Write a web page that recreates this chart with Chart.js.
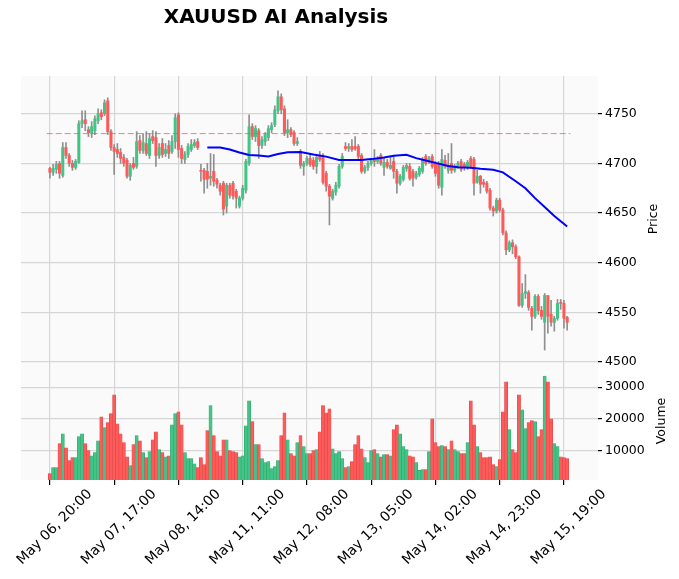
<!DOCTYPE html>
<html lang="en">
  <head>
    <meta charset="UTF-8" />
    <title>XAUUSD AI Analysis</title>
    <script src="https://cdn.jsdelivr.net/npm/chart.js"></script>
    <style>
      html,
      body {
        margin: 0;
        padding: 0;
        background: #ffffff;
      }
      #wrap {
        position: relative;
        width: 679px;
        height: 579px;
      }
      #title {
        position: absolute;
        left: 0;
        top: 5px;
        width: 552px;
        text-align: center;
        font: bold 20px "DejaVu Sans", sans-serif;
        line-height: 23px;
        color: #000000;
      }
      canvas {
        position: absolute;
        left: 0;
        top: 0;
      }
    </style>
  </head>
  <body>
    <div id="wrap">
      <canvas id="chart" width="679" height="579"></canvas>
      <div id="title">XAUUSD AI Analysis</div>
    </div>

    <script>
      // hourly candles, index 0 = May 06 20:00
      const opens = [
        4695, 4691, 4694, 4700, 4688, 4716, 4708, 4700, 4696, 4701,
        4740, 4744, 4734, 4730, 4733, 4743, 4751, 4750, 4763, 4732,
        4716, 4714, 4711, 4706, 4703, 4687, 4700, 4697, 4723, 4713,
        4720, 4708, 4727, 4726, 4708, 4720, 4710, 4718, 4712, 4722,
        4749, 4715, 4704, 4709, 4714, 4718, 4722, 4693, 4693, 4692,
        4685, 4692, 4683, 4678, 4680, 4657, 4678, 4680, 4672, 4657,
        4665, 4673, 4700, 4737, 4727, 4733, 4718, 4722, 4726, 4734,
        4739, 4753, 4767, 4755, 4731, 4734, 4731, 4720, 4712, 4697,
        4700, 4705, 4703, 4697, 4707, 4707, 4690, 4677, 4665, 4671,
        4677, 4697, 4717, 4715, 4717, 4717, 4717, 4708, 4692, 4696,
        4700, 4705, 4702, 4708, 4696, 4701, 4695, 4702, 4692, 4680,
        4684, 4695, 4697, 4692, 4686, 4689, 4692, 4707, 4702, 4707,
        4700, 4700, 4676, 4703, 4693, 4700, 4693, 4697, 4702, 4699,
        4697, 4705, 4704, 4681, 4687, 4681, 4680, 4673, 4655, 4652,
        4663, 4653, 4630, 4613, 4620, 4616, 4606, 4557, 4569, 4570,
        4554, 4546, 4566, 4552, 4540, 4567, 4548, 4540, 4544, 4560,
        4559, 4545,
      ];
      const highs = [
        4696, 4699, 4702, 4702, 4721, 4721, 4710, 4703, 4704, 4743,
        4753, 4753, 4737, 4742, 4748, 4755, 4754, 4764, 4766, 4734,
        4719, 4720, 4715, 4709, 4705, 4700, 4706, 4732, 4728, 4730,
        4732, 4730, 4733, 4732, 4720, 4725, 4720, 4723, 4728, 4750,
        4751, 4718, 4712, 4720, 4724, 4724, 4725, 4699, 4695, 4700,
        4710, 4709, 4685, 4680, 4682, 4680, 4680, 4682, 4674, 4667,
        4678, 4704, 4749, 4740, 4738, 4735, 4727, 4731, 4738, 4741,
        4758, 4773, 4770, 4758, 4744, 4736, 4733, 4726, 4714, 4702,
        4707, 4709, 4706, 4709, 4712, 4710, 4692, 4679, 4674, 4681,
        4699, 4710, 4721, 4720, 4724, 4727, 4719, 4710, 4698, 4702,
        4705, 4714, 4707, 4710, 4705, 4704, 4707, 4707, 4694, 4689,
        4698, 4700, 4700, 4694, 4692, 4697, 4706, 4709, 4707, 4709,
        4702, 4702, 4714, 4708, 4710, 4720, 4699, 4702, 4704, 4701,
        4703, 4707, 4706, 4693, 4688, 4684, 4682, 4675, 4657, 4665,
        4665, 4655, 4632, 4622, 4623, 4618, 4607, 4579, 4588, 4572,
        4556, 4568, 4568, 4556, 4569, 4567, 4562, 4546, 4563, 4563,
        4562, 4546,
      ];
      const lows = [
        4685, 4688, 4690, 4685, 4686, 4705, 4697, 4693, 4694, 4700,
        4736, 4733, 4727, 4726, 4729, 4740, 4744, 4748, 4729, 4713,
        4689, 4706, 4700, 4697, 4685, 4683, 4694, 4695, 4710, 4710,
        4708, 4705, 4720, 4697, 4705, 4706, 4707, 4705, 4710, 4715,
        4706, 4700, 4700, 4706, 4712, 4716, 4714, 4682, 4670, 4675,
        4678, 4677, 4675, 4668, 4648, 4650, 4665, 4664, 4655, 4655,
        4663, 4670, 4698, 4724, 4722, 4705, 4715, 4718, 4723, 4731,
        4737, 4750, 4750, 4728, 4726, 4727, 4718, 4718, 4695, 4688,
        4698, 4697, 4694, 4690, 4702, 4679, 4672, 4638, 4663, 4668,
        4675, 4695, 4713, 4712, 4712, 4713, 4704, 4690, 4690, 4693,
        4698, 4697, 4700, 4698, 4688, 4695, 4694, 4685, 4670, 4678,
        4682, 4692, 4683, 4677, 4684, 4687, 4690, 4698, 4700, 4695,
        4687, 4675, 4668, 4695, 4690, 4690, 4691, 4695, 4692, 4693,
        4694, 4695, 4668, 4680, 4670, 4676, 4670, 4653, 4647, 4650,
        4651, 4628, 4608, 4611, 4609, 4604, 4556, 4555, 4564, 4552,
        4532, 4544, 4548, 4543, 4512, 4529, 4536, 4531, 4542, 4553,
        4534, 4532,
      ];
      const closes = [
        4691, 4695, 4699, 4690, 4716, 4708, 4700, 4696, 4702, 4740,
        4743, 4740, 4731, 4737, 4745, 4750, 4747, 4761, 4732, 4716,
        4712, 4710, 4705, 4700, 4687, 4698, 4696, 4722, 4713, 4721,
        4710, 4725, 4723, 4708, 4716, 4709, 4714, 4710, 4722, 4746,
        4714, 4705, 4709, 4717, 4719, 4721, 4716, 4692, 4684, 4684,
        4687, 4682, 4679, 4672, 4654, 4678, 4668, 4667, 4665, 4665,
        4675, 4702, 4737, 4727, 4735, 4718, 4724, 4729, 4735, 4738,
        4754, 4767, 4754, 4731, 4734, 4729, 4720, 4722, 4698, 4700,
        4705, 4699, 4697, 4706, 4704, 4681, 4677, 4667, 4672, 4678,
        4697, 4707, 4715, 4717, 4714, 4715, 4707, 4692, 4696, 4700,
        4703, 4702, 4705, 4700, 4701, 4697, 4698, 4692, 4680, 4687,
        4696, 4698, 4685, 4685, 4690, 4695, 4704, 4700, 4705, 4697,
        4690, 4678, 4704, 4697, 4698, 4693, 4697, 4700, 4694, 4697,
        4701, 4697, 4680, 4687, 4679, 4679, 4672, 4655, 4652, 4663,
        4653, 4630, 4613, 4620, 4616, 4606, 4557, 4569, 4571, 4555,
        4546, 4566, 4552, 4546, 4567, 4546, 4540, 4544, 4559, 4559,
        4544, 4540,
      ];
      const volumes = [
        2900, 4800, 4800, 12300, 15400, 11000, 7000, 7900, 7900, 14500,
        15400, 12300, 10100, 8500, 9500, 13200, 20700, 17300, 18900, 21700,
        27600, 18500, 15400, 12600, 8200, 5400, 12000, 14800, 13200, 9500,
        7900, 9800, 13500, 16000, 10400, 9500, 8200, 8500, 18200, 21700,
        22300, 18200, 9500, 7600, 7600, 6000, 4800, 7900, 5700, 16400,
        24200, 14800, 9800, 8500, 13500, 13500, 10100, 9800, 9500, 8200,
        8500, 17900, 25700, 19200, 12000, 12000, 7600, 6400, 6700, 4500,
        5100, 7000, 14800, 22000, 13500, 9200, 8500, 12600, 14800, 11400,
        9200, 9200, 10100, 10400, 16000, 24200, 22000, 23200, 10700, 9200,
        9800, 7600, 4800, 5100, 6700, 12000, 14800, 10700, 7900, 6400,
        10100, 10400, 9200, 8200, 8900, 8900, 8500, 16700, 18200, 15400,
        11400, 10400, 8500, 8200, 6400, 3900, 4200, 4200, 9800, 20100,
        12600, 11400, 11700, 11400, 10400, 13200, 10400, 9800, 9200, 9200,
        12600, 25700, 18200, 11400, 9500, 7900, 7900, 8200, 5700, 5100,
        7300, 22300, 31700, 16700, 10400, 9500, 27600, 22900, 17000, 18900,
        19500, 19200, 14500, 16700, 33500, 31700, 20100, 12300, 11400, 8200,
        7900, 7600,
      ];

      // blue average line at these candle indexes
      const maIdx = [
        49, 53, 56, 59, 62, 65, 68, 71, 74, 78, 82, 86, 90, 93, 97, 100,
        104, 107, 111, 114, 117, 120, 124, 127, 131, 134, 138, 141, 145,
        148, 151, 154, 157, 161,
      ];
      const maVal = [
        4716, 4716, 4714, 4711, 4708.5, 4708, 4707, 4709.5, 4711.3, 4711.5,
        4709, 4706.8, 4703.5, 4703.3, 4703.3, 4704.3, 4706, 4707.7, 4708.7,
        4705.3, 4703, 4700.5, 4697.4, 4696.2, 4695.6, 4694.6, 4693.6, 4691,
        4682, 4675, 4665, 4656, 4647, 4636.4,
      ];
      const levelLine = 4730;

      const tickLabels = [
        "May 06, 20:00",
        "May 07, 17:00",
        "May 08, 14:00",
        "May 11, 11:00",
        "May 12, 08:00",
        "May 13, 05:00",
        "May 14, 02:00",
        "May 14, 23:00",
        "May 15, 19:00",
      ];
      const tickStep = 20;
      const priceTicks = [4500, 4550, 4600, 4650, 4700, 4750];
      const volTicks = [10000, 20000, 30000];

      const upColor = "#43c487";
      const downColor = "#ff5a5a";
      const upEdge = "#2fa56c";
      const downEdge = "#e04444";
      const gridColor = "#d6d6d6";
      const font12 = { family: "DejaVu Sans", size: 12.5 };

      const n = closes.length;
      const isUp = closes.map((c, i) => c >= opens[i]);
      const wickData = closes.map((_, i) => ({ x: i, y: [lows[i], highs[i]] }));
      const bodyData = closes.map((c, i) => ({ x: i, y: [opens[i], c] }));
      const volData = volumes.map((v, i) => ({ x: i, y: v }));
      const maData = maIdx.map((x, k) => ({ x: x, y: maVal[k] }));
      const levelData = [
        { x: -1, y: levelLine },
        { x: n, y: levelLine },
      ];
      const tickIdx = tickLabels.map((_, k) => k * tickStep);

      const panelBg = {
        id: "panelBg",
        beforeDraw(chart) {
          const a = chart.chartArea;
          const c = chart.ctx;
          c.save();
          c.fillStyle = "#fafafa";
          c.fillRect(a.left, a.top, a.right - a.left, a.bottom - a.top);
          c.restore();
        },
      };

      const sideTitles = {
        id: "sideTitles",
        afterDraw(chart) {
          const c = chart.ctx;
          const y = chart.scales.y;
          const yv = chart.scales.yv;
          c.save();
          c.fillStyle = "#000";
          c.font = "12.5px 'DejaVu Sans'";
          c.textAlign = "center";
          c.textBaseline = "middle";
          [
            ["Price", 654, (y.top + y.bottom) / 2],
            ["Volume", 662, (yv.top + yv.bottom) / 2],
          ].forEach(([t, x, cy]) => {
            c.save();
            c.translate(x, cy);
            c.rotate(-Math.PI / 2);
            c.fillText(t, 0, 0);
            c.restore();
          });
          c.restore();
        },
      };

      const plain = (v) => String(v);

      new Chart(document.getElementById("chart"), {
        type: "bar",
        data: {
          datasets: [
            {
              label: "wick",
              data: wickData,
              yAxisID: "y",
              backgroundColor: "#8f8f8f",
              barThickness: 1,
              grouped: false,
              order: 4,
            },
            {
              label: "body",
              data: bodyData,
              yAxisID: "y",
              backgroundColor: isUp.map((u) => (u ? upColor : downColor)),
              barThickness: 2.4,
              grouped: false,
              order: 3,
            },
            {
              label: "volume",
              data: volData,
              yAxisID: "yv",
              backgroundColor: isUp.map((u) => (u ? upColor : downColor)),
              borderColor: isUp.map((u) => (u ? upEdge : downEdge)),
              borderWidth: 0.6,
              barThickness: 3.2,
              grouped: false,
              order: 3,
            },
            {
              type: "line",
              label: "avg",
              data: maData,
              yAxisID: "y",
              borderColor: "#0000ff",
              borderWidth: 2,
              pointRadius: 0,
              tension: 0,
              order: 1,
            },
            {
              type: "line",
              label: "level",
              data: levelData,
              yAxisID: "y",
              borderColor: "rgba(235, 90, 90, 0.75)",
              borderWidth: 1,
              borderDash: [6, 3],
              pointRadius: 0,
              order: 2,
            },
          ],
        },
        options: {
          responsive: false,
          animation: false,
          devicePixelRatio: 1,
          layout: { padding: { top: 76, left: 21, right: 0, bottom: 0 } },
          plugins: {
            legend: { display: false },
            tooltip: { enabled: false },
          },
          scales: {
            x: {
              type: "linear",
              min: -9,
              max: 170.6,
              offset: false,
              border: { display: false },
              grid: {
                color: gridColor,
                lineWidth: 1.2,
                offset: false,
                tickLength: 5,
                tickColor: "#000",
              },
              afterBuildTicks: (s) => {
                s.ticks = tickIdx.map((v) => ({ value: v }));
              },
              afterFit: (s) => {
                s.height = 99;
                s.paddingLeft = 0;
                s.paddingRight = 0;
              },
              ticks: {
                autoSkip: false,
                minRotation: 45,
                maxRotation: 45,
                labelOffset: 40,
                padding: 1,
                color: "#000",
                font: { family: "DejaVu Sans", size: 13.9 },
                callback: (v, k) => tickLabels[k],
              },
            },
            y: {
              type: "linear",
              position: "right",
              stack: "panes",
              stackWeight: 286,
              min: 4500,
              max: 4788,
              border: { display: false },
              grid: { color: gridColor, lineWidth: 1.2, tickLength: 4, tickColor: "#000" },
              afterBuildTicks: (s) => {
                s.ticks = priceTicks.map((v) => ({ value: v }));
              },
              afterFit: (s) => {
                s.width = 81;
              },
              ticks: { color: "#000", font: font12, padding: 3, callback: plain },
            },
            yv: {
              type: "linear",
              position: "right",
              stack: "panes",
              stackWeight: 118,
              min: 900,
              max: 37900,
              border: { display: false },
              grid: { color: gridColor, lineWidth: 1.2, tickLength: 4, tickColor: "#000" },
              afterBuildTicks: (s) => {
                s.ticks = volTicks.map((v) => ({ value: v }));
              },
              afterFit: (s) => {
                s.width = 81;
              },
              ticks: { color: "#000", font: font12, padding: 3, callback: plain },
            },
          },
        },
        plugins: [panelBg, sideTitles],
      });
    </script>
  </body>
</html>
